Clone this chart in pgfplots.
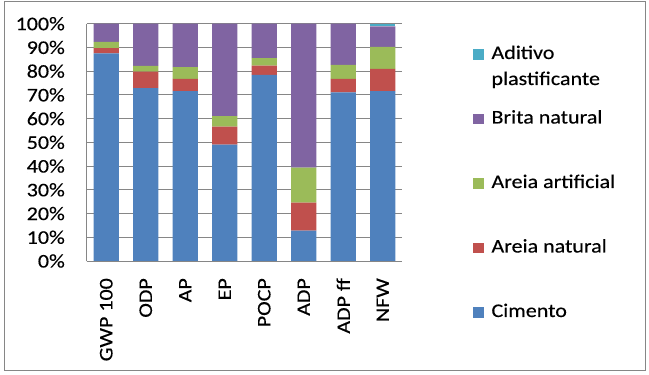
\documentclass[border=0pt]{standalone}
\usepackage{pgfplots}
\pgfplotsset{compat=1.18}
\usepackage{fontspec}
\setmainfont{Carlito}[FakeStretch=1.14, FakeBold=0.3]
\newcommand\cf{\fontsize{19.3bp}{23bp}\selectfont}
\definecolor{cim}{HTML}{4F81BD}
\definecolor{an}{HTML}{C0504D}
\definecolor{aa}{HTML}{9BBB59}
\definecolor{bn}{HTML}{8064A2}
\definecolor{ad}{HTML}{4BACC6}
\definecolor{fr}{HTML}{868686}
\pgfplotstableread{
x C AN AA BN AD
0 87.5 2.2 2.6 7.7 0
1 72.9 6.9 2.4 17.8 0
2 71.6 5.1 5.0 18.3 0
3 49.0 7.6 4.5 38.9 0
4 78.4 3.9 3.2 14.5 0
5 12.8 11.8 14.7 60.7 0
6 71.1 5.6 6.0 17.3 0
7 71.6 9.4 9.2 8.7 1.1
}\data
\pgfplotsset{mybar/.style={fill=#1, draw=none,
  legend image code/.code={\fill[fill=#1] (-1bp,-4.5bp) rectangle (10.5bp,6bp);}}}
\begin{document}
\begin{tikzpicture}
\path[use as bounding box] (0,0) rectangle (649bp,375bp);
\draw[fr, line width=1bp] (4.7bp,4.3bp) rectangle (645bp,373.3bp);
\begin{axis}[
  at={(86.5bp,114bp)}, anchor=south west,
  scale only axis, width=316bp, height=237.3bp,
  ybar stacked, bar width=25.3bp,
  xmin=-0.5, xmax=7.5, ymin=0, ymax=100,
  axis x line*=bottom, axis y line*=left,
  axis line style={fr, line width=1bp, -},
  ymajorgrids, grid style={fr, line width=1bp},
  major tick length=0pt,
  xtick={0,...,7},
  xticklabels={GWP 100,ODP,AP,EP,POCP,ADP,ADP ff,NFW},
  ytick={0,10,...,100},
  yticklabels={0\%,10\%,20\%,30\%,40\%,50\%,60\%,70\%,80\%,90\%,100\%},
  xticklabel style={font=\cf, inner sep=0pt, yshift=-17bp, rotate=90, anchor=east},
  yticklabel style={font=\cf, inner sep=0pt, anchor=east, xshift=-21.5bp},
  reverse legend,
  legend cell align=left,
  legend style={draw=none, fill=none, inner sep=0pt, outer sep=0pt,
    at={(1.2231,0.8934)}, anchor=north west, font=\cf,
    row sep=51.5bp, column sep=7bp,
    nodes={text height=10bp, text depth=3bp, inner sep=0pt}},
]
\addplot[mybar=cim] table[x=x,y=C]{\data};
\addlegendentry{Cimento}
\addplot[mybar=an] table[x=x,y=AN]{\data};
\addlegendentry{Areia natural}
\addplot[mybar=aa] table[x=x,y=AA]{\data};
\addlegendentry{Areia artificial}
\addplot[mybar=bn] table[x=x,y=BN]{\data};
\addlegendentry{Brita natural}
\addplot[mybar=ad] table[x=x,y=AD]{\data};
\addlegendentry{\begin{tabular}[t]{@{}l@{}}Aditivo\\[3bp]plastificante\end{tabular}}
\end{axis}
\end{tikzpicture}
\end{document}
